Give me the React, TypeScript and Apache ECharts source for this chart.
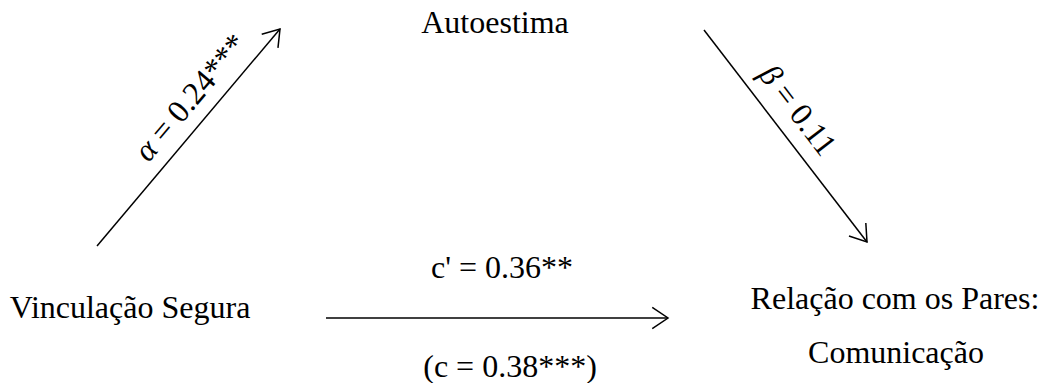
import React, { useEffect, useRef } from "react";
import * as echarts from "echarts";

// Variable (node) names
const nodeLabels = ["Autoestima", "Vinculação Segura", "Relação com os Pares:", "Comunicação"];
// Path coefficient labels
const pathLabels = ["α = 0.24***", "β = 0.11", "c' = 0.36**", "(c = 0.38***)"];

// Layout in the hidden pixel-space axes (x: 0..1044, y: 0..383 downwards)
const nodeAnchors = [
  [495, 21.5],
  [130, 306.5],
  [895, 297.5],
  [896, 351.5],
];
const arrowSegments = [
  [97, 246, 280, 29],
  [704, 30, 867, 242],
  [326, 318, 668, 318],
];
const pathLabelAnchors = [
  [190, 97, 49.85],
  [798, 110, -52.4],
  [502, 266.5, 0],
  [510, 366, 0],
];

const FONT = "Liberation Serif";
const FONT_SIZE = 32;

export default function App() {
  const ref = useRef<HTMLDivElement>(null);
  useEffect(() => {
    if (!ref.current) return;
    const chart = echarts.init(ref.current, undefined, { renderer: "svg" });
    const textItem = (labels: string[]) => (params: any, api: any) => {
      const p = api.coord([api.value(0), api.value(1)]);
      const raw = labels[params.dataIndex];
      const greek = /^[α-ω]/.test(raw);
      const text = greek ? "{g|" + raw[0] + "}{n|" + raw.slice(1) + "}" : raw;
      return {
        type: "text",
        x: p[0],
        y: p[1],
        rotation: ((api.value(2) || 0) * Math.PI) / 180,
        style: {
          text,
          fontFamily: FONT,
          fontSize: FONT_SIZE,
          fill: "#000",
          align: "center",
          verticalAlign: "middle",
          rich: {
            g: { fontFamily: FONT, fontSize: FONT_SIZE, fontStyle: "italic", fill: "#000" },
            n: { fontFamily: FONT, fontSize: FONT_SIZE, fill: "#000" },
          },
        },
      };
    };
    chart.setOption({
      animation: false,
      backgroundColor: "#fff",
      grid: { left: 0, right: 0, top: 0, bottom: 0 },
      xAxis: { type: "value", min: 0, max: 1044, show: false },
      yAxis: { type: "value", min: 0, max: 383, inverse: true, show: false },
      series: [
        {
          type: "custom",
          clip: false,
          silent: true,
          data: arrowSegments,
          renderItem: (params: any, api: any) => {
            const p1 = api.coord([api.value(0), api.value(1)]);
            const p2 = api.coord([api.value(2), api.value(3)]);
            const ang = Math.atan2(p2[1] - p1[1], p2[0] - p1[0]);
            const L = 19;
            const a = (34 * Math.PI) / 180;
            const h1 = [p2[0] - L * Math.cos(ang - a), p2[1] - L * Math.sin(ang - a)];
            const h2 = [p2[0] - L * Math.cos(ang + a), p2[1] - L * Math.sin(ang + a)];
            return {
              type: "group",
              children: [
                {
                  type: "line",
                  shape: { x1: p1[0], y1: p1[1], x2: p2[0], y2: p2[1] },
                  style: { stroke: "#000", lineWidth: 1.5 },
                },
                {
                  type: "polyline",
                  shape: { points: [h1, p2, h2] },
                  style: { stroke: "#000", lineWidth: 1.5, fill: null },
                },
              ],
            };
          },
        },
        {
          type: "custom",
          clip: false,
          silent: true,
          data: nodeAnchors.map((d) => [d[0], d[1], 0]),
          renderItem: textItem(nodeLabels),
        },
        {
          type: "custom",
          clip: false,
          silent: true,
          data: pathLabelAnchors,
          renderItem: textItem(pathLabels),
        },
      ],
    });
    return () => chart.dispose();
  }, []);
  return (
    <div
      ref={ref}
      style={{ position: "fixed", left: 0, top: 0, width: 1044, height: 383 }}
    />
  );
}
